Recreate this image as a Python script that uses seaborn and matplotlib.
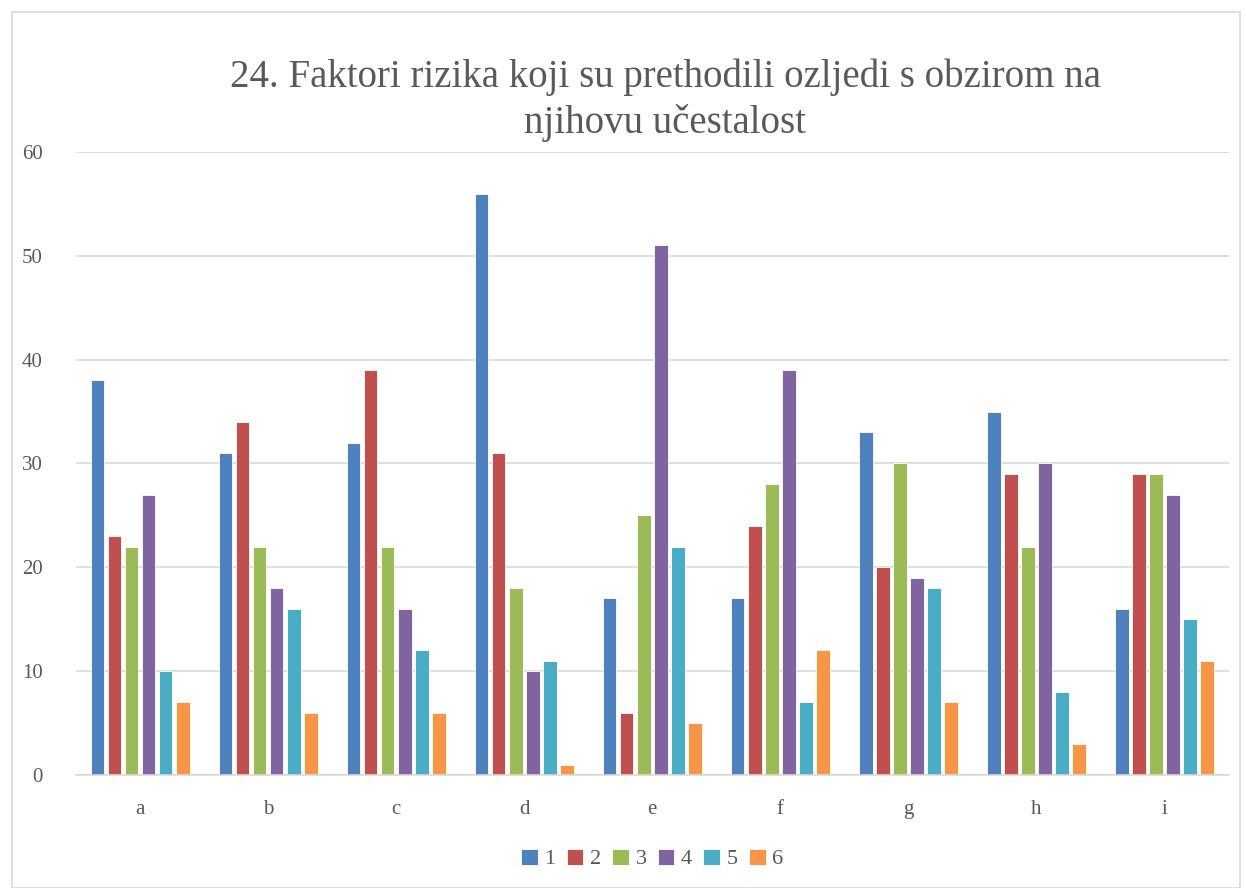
import matplotlib
matplotlib.use('Agg')
import matplotlib.pyplot as plt
import seaborn as sns
import pandas as pd
from matplotlib.patches import Rectangle

# data
categories = ['a', 'b', 'c', 'd', 'e', 'f', 'g', 'h', 'i']
series_names = ['1', '2', '3', '4', '5', '6']
s1 = [38, 31, 32, 56, 17, 17, 33, 35, 16]
s2 = [23, 34, 39, 31, 6, 24, 20, 29, 29]
s3 = [22, 22, 22, 18, 25, 28, 30, 22, 29]
s4 = [27, 18, 16, 10, 51, 39, 19, 30, 27]
s5 = [10, 16, 12, 11, 22, 7, 18, 8, 15]
s6 = [7, 6, 6, 1, 5, 12, 7, 3, 11]
colors = ['#4F81BD', '#C0504D', '#9BBB59', '#8064A2', '#4BACC6', '#F79646']

rows = []
for name, vals in zip(series_names, [s1, s2, s3, s4, s5, s6]):
    for cat, v in zip(categories, vals):
        rows.append({'kat': cat, 'vrijednost': v, 'serija': name})
df = pd.DataFrame(rows)

sns.set_style('white')
plt.rcParams['font.family'] = ['Liberation Serif', 'DejaVu Serif']

fig = plt.figure(figsize=(12.46, 8.88), dpi=100)
ax = fig.add_axes([0.061, 0.1273, 0.925, 0.7015])

sns.barplot(data=df, x='kat', y='vrijednost', hue='serija', palette=colors,
            saturation=1, width=0.8, gap=0.2, edgecolor='white', linewidth=0.6, ax=ax)

ax.set_ylim(0, 60)
ax.set_xlim(-0.5, len(categories) - 0.5)
ax.set_yticks(range(0, 61, 10))
ax.yaxis.grid(True, color='#d9d9d9', linewidth=1.2)
ax.set_axisbelow(True)
for side in ['top', 'right', 'left']:
    ax.spines[side].set_visible(False)
ax.spines['bottom'].set_color('#d9d9d9')
ax.spines['bottom'].set_linewidth(1.2)
ax.tick_params(axis='y', length=0, pad=24, labelsize=15, labelcolor='#595959')
ax.tick_params(axis='x', length=0, pad=18, labelsize=15, labelcolor='#595959')
ax.set_xlabel('')
ax.set_ylabel('')

leg = ax.legend(loc='center', bbox_to_anchor=(0.5, -0.135), ncol=6, frameon=False,
                fontsize=16, handlelength=0.75, handleheight=0.75, handletextpad=0.3,
                columnspacing=0.5)
for t in leg.get_texts():
    t.set_color('#595959')

fig.text(0.534, 0.887, '24. Faktori rizika koji su prethodili ozljedi s obzirom na\nnjihovu učestalost',
         ha='center', va='center', fontsize=28, color='#595959', linespacing=1.3)

fig.patches.append(Rectangle((0.01, 0.0), 0.985, 0.986, transform=fig.transFigure,
                             fill=False, edgecolor='#d9d9d9', linewidth=1.2))

fig.savefig('out.png', dpi=100)
